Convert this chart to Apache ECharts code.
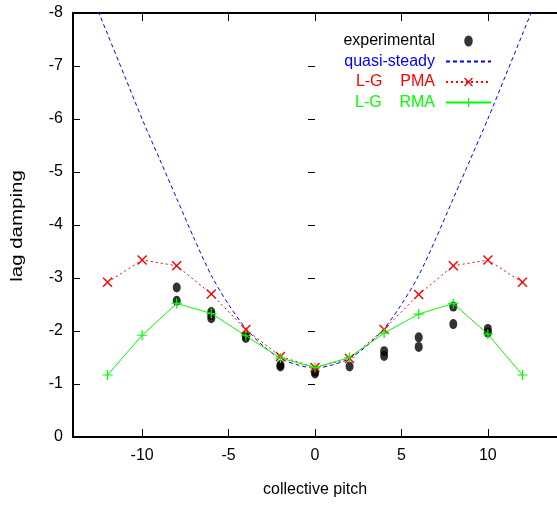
<!DOCTYPE html>
<html>
<head>
<meta charset="utf-8">
<script src="https://cdn.jsdelivr.net/npm/echarts@6/dist/echarts.min.js"></script>
<style>
html,body{margin:0;padding:0;background:#fff;}
#c{width:557px;height:505px;}
</style>
</head>
<body>
<div id="c"></div>
<script>
// ---- data ----
var xTickValues = [-10, -5, 0, 5, 10];
var yTickMin = -8, yTickMax = 0, yTickStep = 1;

var experimental = [
  [-8, -2.82], [-8, -2.57],
  [-6, -2.36], [-6, -2.30], [-6, -2.24],
  [-4, -1.90], [-4, -1.87],
  [-2, -1.36], [-2, -1.33],
  [0, -1.20], [0, -1.23],
  [2, -1.33],
  [4, -1.62], [4, -1.53],
  [6, -1.88], [6, -1.70],
  [8, -2.46], [8, -2.13],
  [10, -2.04], [10, -1.97]
];

var quasiX = [-13, -12, -11, -10, -9, -8, -7, -6, -5, -4, -3, -2, -1, 0, 1, 2, 3, 4, 5, 6, 7, 8, 9, 10, 11, 12, 13];
var quasiY = [-8.4, -7.6, -6.8, -6.0, -5.25, -4.5, -3.75, -3.05, -2.5, -2.05, -1.72, -1.48, -1.36, -1.3, -1.36, -1.48, -1.72, -2.05, -2.5, -3.05, -3.75, -4.5, -5.25, -6.0, -6.8, -7.6, -8.4];

var pitchX = [-12, -10, -8, -6, -4, -2, 0, 2, 4, 6, 8, 10, 12];
var pmaY = [-2.92, -3.34, -3.23, -2.70, -2.03, -1.52, -1.31, -1.48, -2.03, -2.69, -3.23, -3.34, -2.92];
var rmaY = [-1.17, -1.92, -2.52, -2.33, -1.91, -1.49, -1.31, -1.50, -1.96, -2.32, -2.52, -1.94, -1.17];

function zip(xs, ys) { return xs.map(function (x, i) { return [x, ys[i]]; }); }

var FONT = "'Liberation Sans', Arial, Helvetica, sans-serif";
var crossPath = 'path://M0,1L1,0L5,4L9,0L10,1L6,5L10,9L9,10L5,6L1,10L0,9L4,5Z';
var plusPath = 'path://M4.4,0H5.6V4.4H10V5.6H5.6V10H4.4V5.6H0V4.4H4.4Z';
var ellipsePath = 'path://M0,4.5A3.5,4.5 0 1,0 7,4.5A3.5,4.5 0 1,0 0,4.5Z';
var GREEN = '#00ff00';

var chart = echarts.init(document.getElementById('c'), null, {renderer: 'canvas'});

var axisLineStyle = {color: '#000', width: 2};

chart.setOption({
  animation: false,
  backgroundColor: '#fff',
  textStyle: {fontFamily: FONT},
  grid: {left: 73, top: 13, right: -2, bottom: 68, containLabel: false},
  graphic: [{
    type: 'text',
    x: 18, y: 226,
    rotation: Math.PI / 2,
    scaleX: 1.28,
    style: {text: 'lag damping', fill: '#000', font: '16px ' + FONT, align: 'center', verticalAlign: 'middle'}
  }],
  legend: {
    orient: 'vertical',
    align: 'right',
    right: 60,
    top: 28,
    itemWidth: 45,
    itemHeight: 11,
    itemGap: 4.5,
    selectedMode: false,
    textStyle: {fontSize: 16, fontFamily: FONT, padding: [0, 6, 0, 0]},
    data: [
      {name: 'experimental', textStyle: {color: '#000'}, icon: ellipsePath},
      {name: 'quasi-steady', textStyle: {color: '#0000ff'}, itemStyle: {opacity: 0}},
      {name: 'L-G    PMA', textStyle: {color: '#ff0000'}},
      {name: 'L-G    RMA', textStyle: {color: GREEN}}
    ]
  },
  xAxis: [{
    type: 'value', position: 'bottom', min: -14, max: 14,
    name: 'collective pitch', nameLocation: 'middle', nameGap: 45,
    nameTextStyle: {fontSize: 16, color: '#000', fontFamily: FONT},
    axisLine: {show: true, onZero: false, lineStyle: axisLineStyle},
    axisTick: {show: true, inside: true, length: 8, customValues: xTickValues, lineStyle: {color: '#000', width: 1}},
    axisLabel: {show: true, customValues: xTickValues, fontSize: 16, color: '#000', margin: 11, fontFamily: FONT},
    splitLine: {show: false}
  }, {
    type: 'value', position: 'top', min: -14, max: 14,
    axisLine: {show: true, onZero: false, lineStyle: axisLineStyle},
    axisTick: {show: true, inside: true, length: 8, customValues: xTickValues, lineStyle: {color: '#000', width: 1}},
    axisLabel: {show: false},
    splitLine: {show: false}
  }],
  yAxis: [{
    type: 'value', position: 'left', min: yTickMin, max: yTickMax, interval: yTickStep, inverse: true,
    axisLine: {show: true, onZero: false, lineStyle: axisLineStyle},
    axisTick: {show: true, inside: true, length: 7, lineStyle: {color: '#000', width: 1}},
    axisLabel: {show: true, fontSize: 16, color: '#000', margin: 10, fontFamily: FONT},
    splitLine: {show: false}
  }, {
    type: 'value', position: 'right', min: yTickMin, max: yTickMax, interval: yTickStep, inverse: true,
    axisLine: {show: false},
    axisTick: {show: true, inside: true, length: 7, lineStyle: {color: '#000', width: 1}},
    axisLabel: {show: false},
    splitLine: {show: false}
  }],
  series: [{
    name: 'experimental', type: 'scatter', xAxisIndex: 0, yAxisIndex: 0,
    symbol: 'circle', symbolSize: [8, 10],
    itemStyle: {color: '#000'},
    data: experimental
  }, {
    name: 'quasi-steady', type: 'line', xAxisIndex: 0, yAxisIndex: 0,
    showSymbol: false, symbol: 'circle', symbolSize: 1, smooth: 0.3,
    lineStyle: {color: '#0000ff', width: 1, type: [4, 3]},
    itemStyle: {color: '#0000ff'},
    data: zip(quasiX, quasiY)
  }, {
    name: 'L-G    PMA', type: 'line', xAxisIndex: 0, yAxisIndex: 0,
    symbol: crossPath, symbolSize: 10, showAllSymbol: true,
    lineStyle: {color: '#ff0000', width: 1, type: [2, 3]},
    itemStyle: {color: '#ff0000'},
    data: zip(pitchX, pmaY)
  }, {
    name: 'L-G    RMA', type: 'line', xAxisIndex: 0, yAxisIndex: 0,
    symbol: plusPath, symbolSize: 10, showAllSymbol: true,
    lineStyle: {color: GREEN, width: 1},
    itemStyle: {color: GREEN},
    data: zip(pitchX, rmaY)
  }]
});
</script>
</body>
</html>
